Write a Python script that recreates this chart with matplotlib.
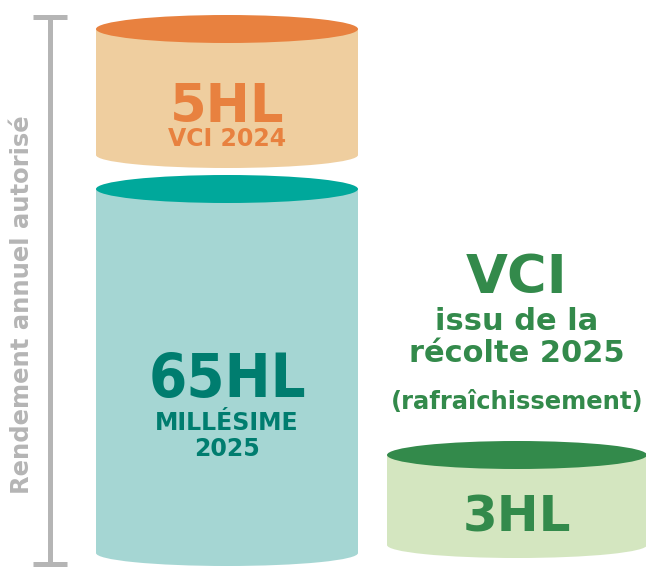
import matplotlib.pyplot as plt
from matplotlib.patches import Ellipse, Rectangle

# data
volumes = [5, 65, 3]
unit = 'HL'
sublabels = ['VCI 2024', 'MILLÉSIME\n2025', '']
axis_label = 'Rendement annuel autorisé'
side_title = 'VCI'
side_lines = ['issu de la', 'récolte 2025', '(rafraîchissement)']

# layout (pixels, y downwards)
cx = [227, 227, 517]
widths = [262, 262, 260]
top_y = [29, 189, 455]
bot_y = [155, 553, 545]
top_col = ['#E8813F', '#00A89B', '#338A4B']
body_col = ['#EFCE9F', '#A5D6D3', '#D4E6C0']
txt_col = ['#E8813F', '#007D6F', '#338A4B']
big_size = [38, 44, 36]
big_stretch = ['normal', 'condensed', 'normal']
big_base = [122, 397, 532]
sub_size = [17, 17, 17]
sub_base = [146, 430, 0]
grey = '#B5B5B5'

fig = plt.figure(figsize=(6.46, 5.67), dpi=100)
ax = fig.add_axes([0, 0, 1, 1])
ax.set_xlim(0, 646)
ax.set_ylim(567, 0)
ax.axis('off')

for i, v in enumerate(volumes):
    w = widths[i]
    ax.add_patch(Ellipse((cx[i], bot_y[i]), w, 26, color=body_col[i], lw=0))
    ax.add_patch(Rectangle((cx[i] - w / 2, top_y[i]), w, bot_y[i] - top_y[i],
                           color=body_col[i], lw=0))
    ax.add_patch(Ellipse((cx[i], top_y[i]), w, 28, color=top_col[i], lw=0))
    ax.text(cx[i], big_base[i], f'{v}{unit}', ha='center', va='baseline',
            fontsize=big_size[i], fontweight='bold', fontstretch=big_stretch[i],
            color=txt_col[i])
    if sublabels[i]:
        for j, line in enumerate(sublabels[i].split('\n')):
            ax.text(cx[i], sub_base[i] + j * 26, line, ha='center', va='baseline',
                    fontsize=sub_size[i], fontweight='bold', color=txt_col[i])

# side text above the small cylinder
ax.text(517, 293, side_title, ha='center', va='baseline', fontsize=39,
        fontweight='bold', color=txt_col[2])
for line, base, fs in zip(side_lines, [330, 362, 409], [22, 22, 17.5]):
    ax.text(517, base, line, ha='center', va='baseline', fontsize=fs,
            fontweight='bold', color=txt_col[2])

# bracket
ax.plot([50, 50], [17, 564], color=grey, lw=3.6, solid_capstyle='butt')
ax.plot([33, 67], [17, 17], color=grey, lw=3.6, solid_capstyle='butt')
ax.plot([33, 67], [564, 564], color=grey, lw=3.6, solid_capstyle='butt')
ax.text(22, 305, axis_label, rotation=90, ha='center', va='center',
        fontsize=17.5, fontweight='bold', color=grey)

fig.savefig('out.png', dpi=100)
